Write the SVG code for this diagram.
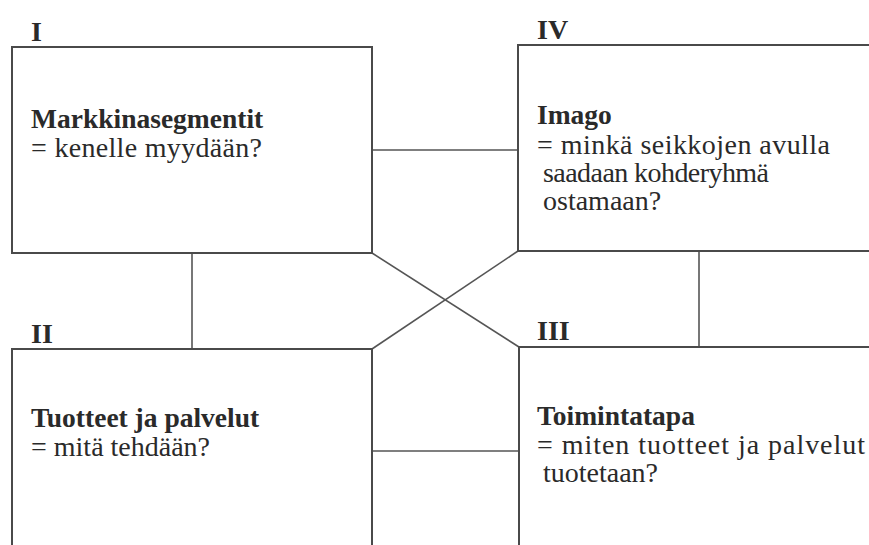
<svg xmlns="http://www.w3.org/2000/svg" width="869" height="545" viewBox="0 0 869 545">
  <style>
    .box { fill: #ffffff; stroke: #4a4a4a; stroke-width: 2; }
    .link { stroke: #555555; stroke-width: 1.6; fill: none; }
    .num { font-family: "Liberation Serif", "Times New Roman", serif; font-weight: bold; font-size: 28px; fill: #2a2a2a; }
    .title { font-family: "Liberation Serif", "Times New Roman", serif; font-weight: bold; font-size: 27.5px; fill: #2a2a2a; }
    .desc { font-family: "Liberation Serif", "Times New Roman", serif; font-size: 28px; fill: #2a2a2a; }
  </style>
  <rect width="869" height="545" fill="#ffffff"/>

  <!-- connectors between the four quadrants -->
  <g id="connectors">
    <line class="link" x1="372" y1="150" x2="518" y2="150"/>
    <line class="link" x1="372" y1="451" x2="519" y2="451"/>
    <line class="link" x1="192" y1="253" x2="192" y2="349"/>
    <line class="link" x1="699" y1="251" x2="699" y2="347"/>
    <line class="link" x1="372" y1="253" x2="519" y2="347"/>
    <line class="link" x1="518" y1="251" x2="372" y2="349"/>
  </g>

  <!-- I: market segments -->
  <g id="node-I">
    <text class="num" x="31" y="41">I</text>
    <rect class="box" x="12" y="47" width="360" height="206"/>
    <text class="title" x="31" y="128">Markkinasegmentit</text>
    <text class="desc" x="31" y="157" textLength="231" lengthAdjust="spacing">= kenelle myydään?</text>
  </g>

  <!-- IV: image -->
  <g id="node-IV">
    <text class="num" x="537" y="39">IV</text>
    <rect class="box" x="518" y="45" width="370" height="206"/>
    <text class="title" x="537" y="124">Imago</text>
    <text class="desc" x="537" y="154" textLength="293" lengthAdjust="spacing">= minkä seikkojen avulla</text>
    <text class="desc" x="543" y="182" textLength="226" lengthAdjust="spacing">saadaan kohderyhmä</text>
    <text class="desc" x="543" y="210">ostamaan?</text>
  </g>

  <!-- II: products and services -->
  <g id="node-II">
    <text class="num" x="31" y="343">II</text>
    <rect class="box" x="12" y="349" width="360" height="220"/>
    <text class="title" x="31" y="427">Tuotteet ja palvelut</text>
    <text class="desc" x="31" y="456">= mitä tehdään?</text>
  </g>

  <!-- III: way of operating -->
  <g id="node-III">
    <text class="num" x="537" y="340">III</text>
    <rect class="box" x="519" y="347" width="370" height="220"/>
    <text class="title" x="537" y="425">Toimintatapa</text>
    <text class="desc" x="537" y="454" textLength="328" lengthAdjust="spacing">= miten tuotteet ja palvelut</text>
    <text class="desc" x="543" y="482">tuotetaan?</text>
  </g>
</svg>
